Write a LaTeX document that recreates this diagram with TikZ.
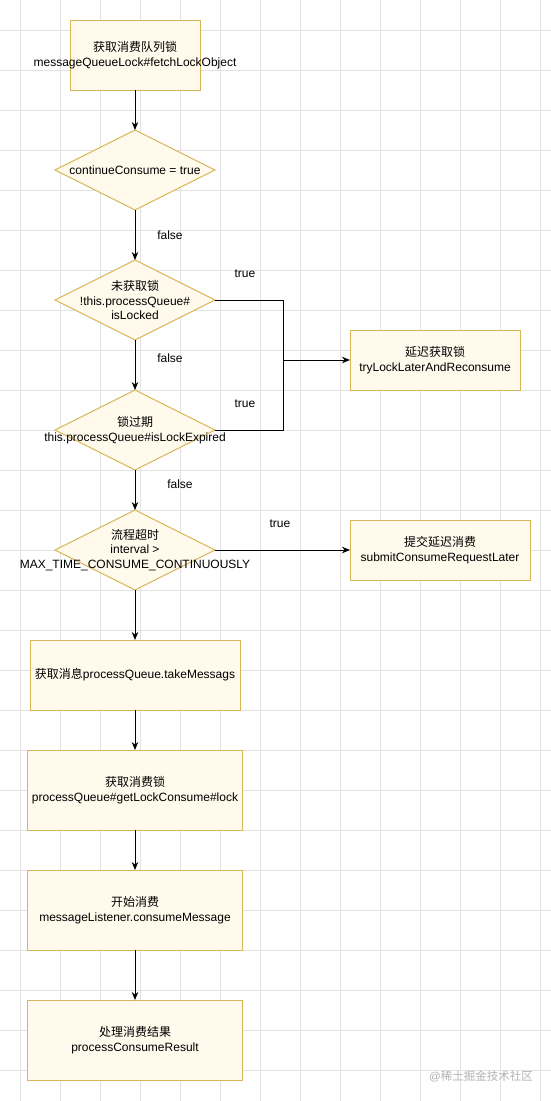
\documentclass[tikz,border=0pt]{standalone}
\usepackage{fontspec}
\setmainfont{Liberation Sans}
\newfontfamily\cjk{Noto Sans CJK SC}
\usepackage{tikz}
\usetikzlibrary{shapes.geometric, arrows.meta, positioning, calc}
\usepackage{xcolor}
\definecolor{boxfill}{RGB}{255,250,236}
\definecolor{boxline}{RGB}{214,182,86}
\definecolor{gridgray}{RGB}{226,226,226}
\newcommand{\ctr}[1]{\makebox[0pt]{#1}}

\begin{document}
\begin{tikzpicture}[
  x=1pt, y=-1pt,
  font=\fontsize{12}{14.4}\selectfont,
  procbox/.style={rectangle, draw=boxline, fill=boxfill, line width=1pt, align=center, inner sep=0pt, outer sep=0pt},
  decision/.style={diamond, draw=boxline, fill=boxfill, line width=1pt, aspect=2, minimum width=160pt, minimum height=80pt, inner sep=0pt, outer sep=0pt, align=center},
  arrow/.style={-{Stealth[length=8pt, width=6.5pt]}, line width=1pt},
  link/.style={line width=1pt},
  lbl/.style={inner sep=0pt},
  gridline/.style={gridgray, line width=0.8pt},
  wmark/.style={inner sep=0pt, text=black!30, font=\fontsize{11.5}{13}\selectfont},
]
  \useasboundingbox (0,0) rectangle (551,1101);
  \fill[white] (0,0) rectangle (551,1101);
  % background grid
  \foreach \gx in {20,60,...,540} \draw[gridline] (\gx,0) -- (\gx,1101);
  \foreach \gy in {30,70,...,1090} \draw[gridline] (0,\gy) -- (551,\gy);

  \node[procbox, minimum width=130pt, minimum height=70pt] (fetch) at (135,55) {\ctr{\cjk 获取消费队列锁}\\\ctr{messageQueueLock\#fetchLockObject}};
  \node[decision, below=40pt of fetch] (cont) {\ctr{continueConsume = true}};
  \node[decision, below=50pt of cont] (unlocked) {\ctr{\cjk 未获取锁}\\\ctr{!this.processQueue\#}\\\ctr{isLocked}};
  \node[decision, below=50pt of unlocked] (expired) {\ctr{\cjk 锁过期}\\\ctr{this.processQueue\#isLockExpired}};
  \node[decision, below=40pt of expired] (timeout) {\ctr{\cjk 流程超时}\\\ctr{interval >}\\\ctr{MAX\_TIME\_CONSUME\_CONTINUOUSLY}};
  \node[procbox, minimum width=210pt, minimum height=70pt, below=50pt of timeout] (take) {{\cjk 获取消息}processQueue.takeMessags};
  \node[procbox, minimum width=215pt, minimum height=80pt, below=40pt of take] (lockc) {{\cjk 获取消费锁}\\processQueue\#getLockConsume\#lock};
  \node[procbox, minimum width=215pt, minimum height=80pt, below=40pt of lockc] (consume) {{\cjk 开始消费}\\messageListener.consumeMessage};
  \node[procbox, minimum width=215pt, minimum height=80pt, below=50pt of consume] (result) {{\cjk 处理消费结果}\\processConsumeResult};

  \node[procbox, minimum width=170pt, minimum height=60pt] (relock) at (435,360) {{\cjk 延迟获取锁}\\tryLockLaterAndReconsume};
  \node[procbox, minimum width=180pt, minimum height=60pt, right=135pt of timeout] (later) {{\cjk 提交延迟消费}\\submitConsumeRequestLater};

  \coordinate (jn) at (283,360);

  \draw[arrow] (fetch) -- (cont);
  \draw[arrow] (cont) -- (unlocked);
  \draw[arrow] (unlocked) -- (expired);
  \draw[arrow] (expired) -- (timeout);
  \draw[arrow] (timeout) -- (take);
  \draw[arrow] (take) -- (lockc);
  \draw[arrow] (lockc) -- (consume);
  \draw[arrow] (consume) -- (result);
  \draw[link] (unlocked.east) -| (jn);
  \draw[link] (expired.east) -| (jn);
  \draw[arrow] (jn) -- (relock);
  \draw[arrow] (timeout.east) -- (later);

  \node[lbl] (f1) at (170,235) {false};
  \node[lbl] (f2) at (170,358) {false};
  \node[lbl] (f3) at (180,484) {false};
  \node[lbl] (t1) at (245,274) {true};
  \node[lbl] (t2) at (245,404) {true};
  \node[lbl] (t3) at (280,524) {true};

  \node[wmark, anchor=east] (wm) at (533,1076) {@{\cjk 稀土掘金技术社区}};
\end{tikzpicture}
\end{document}
